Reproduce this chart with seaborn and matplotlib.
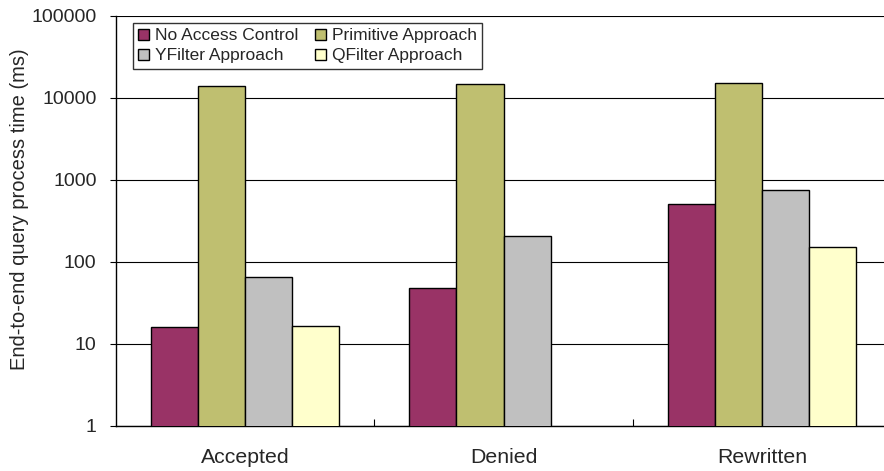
import numpy as np
import pandas as pd
import matplotlib
matplotlib.use("Agg")
import matplotlib.pyplot as plt
import seaborn as sns

# data
categories = ["Accepted", "Denied", "Rewritten"]
series = ["No Access Control", "Primitive Approach", "YFilter Approach", "QFilter Approach"]
no_access = [16, 48, 510]
primitive = [14000, 14800, 15100]
yfilter = [66, 205, 745]
qfilter = [16.6, np.nan, 152]
colors = ["#993366", "#BFBF70", "#C0C0C0", "#FFFFCC"]

rows = []
for name, vals in zip(series, [no_access, primitive, yfilter, qfilter]):
    for cat, v in zip(categories, vals):
        rows.append({"category": cat, "series": name, "value": v})
df = pd.DataFrame(rows)

sns.set_style("white")
plt.rcParams["font.family"] = ["Liberation Sans", "DejaVu Sans"]

fig = plt.figure(figsize=(8.84, 4.71), dpi=100)
ax = fig.add_axes([116 / 884, 45 / 471, 775 / 884, 410 / 471])

sns.barplot(data=df, x="category", y="value", hue="series", hue_order=series,
            palette=colors, width=0.73, edgecolor="black", linewidth=1.0,
            saturation=1, errorbar=None, ax=ax, zorder=3)

ax.set_yscale("log")
ax.set_ylim(1, 100000)
ax.set_xlim(-0.5, 2.5)
ax.set_yticks([1, 10, 100, 1000, 10000, 100000])
ax.set_yticklabels(["1", "10", "100", "1000", "10000", "100000"])
ax.yaxis.set_minor_locator(matplotlib.ticker.NullLocator())
ax.grid(axis="y", color="black", linewidth=0.8, zorder=0)
ax.set_axisbelow(True)

ax.set_xlabel("")
ax.set_ylabel("End-to-end query process time (ms)", fontsize=14.5)
ax.yaxis.set_label_coords(-0.112, 0.53)
ax.tick_params(axis="y", labelsize=14, length=4, pad=10, direction="out",
               color="black", width=0.8, left=True)
ax.tick_params(axis="x", labelsize=15.3, length=0, pad=16)
ax.xaxis.set_minor_locator(matplotlib.ticker.FixedLocator([0.5, 1.5]))
ax.tick_params(axis="x", which="minor", length=5, direction="in", color="black",
               width=0.8, bottom=True)

for s in ["top", "right"]:
    ax.spines[s].set_visible(False)
for s in ["left", "bottom"]:
    ax.spines[s].set_color("black")
    ax.spines[s].set_linewidth(1.0)

# legend filled row by row like the original
handles, labels = ax.get_legend_handles_labels()
order = [0, 2, 1, 3]
leg = ax.legend([handles[i] for i in order], [labels[i] for i in order],
                ncol=2, loc="upper left", bbox_to_anchor=(17 / 775, 403 / 410),
                fontsize=12.5, frameon=True, fancybox=False, edgecolor="black",
                handlelength=0.6, handleheight=0.6, handletextpad=0.35,
                columnspacing=1.0, labelspacing=0.3, borderpad=0.3, borderaxespad=0)
leg.get_frame().set_linewidth(1.0)

fig.savefig("out.png", dpi=100)
